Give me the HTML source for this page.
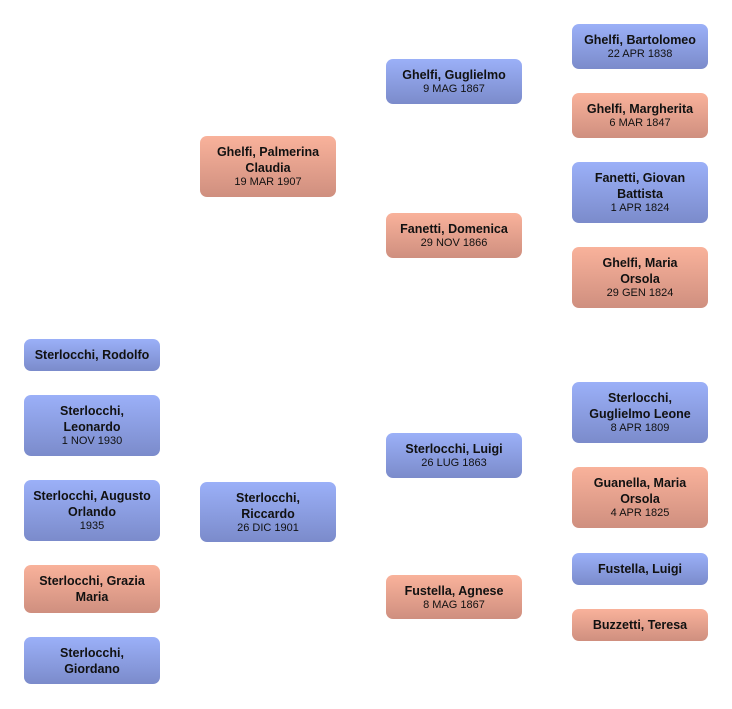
<!DOCTYPE html>
<html>
<head>
<meta charset="utf-8">
<style>
  html, body { margin:0; padding:0; background:#ffffff; }
  body { width:732px; height:709px; position:relative; overflow:hidden;
         font-family:"Liberation Sans", "DejaVu Sans", sans-serif; color:#111; }
  .b { position:absolute; width:136px; border-radius:7px; box-sizing:border-box;
       display:flex; flex-direction:column; justify-content:center; align-items:center;
       text-align:center; }
  .m { background:linear-gradient(#9bb0f8, #7b8bcb); }
  .f { background:linear-gradient(#f9b29b, #cf8f7f); }
  .n { font-weight:bold; font-size:12.5px; line-height:16px; padding:0 6px; }
  .d { font-size:11px; line-height:13px; }
</style>
</head>
<body>
<!-- column 1 -->
<div class="b m" style="left:24px;top:339px;height:32px"><div class="n">Sterlocchi, Rodolfo</div></div>
<div class="b m" style="left:24px;top:395px;height:61px"><div class="n">Sterlocchi,<br>Leonardo</div><div class="d">1 NOV 1930</div></div>
<div class="b m" style="left:24px;top:480px;height:61px"><div class="n">Sterlocchi, Augusto<br>Orlando</div><div class="d">1935</div></div>
<div class="b f" style="left:24px;top:565px;height:48px"><div class="n">Sterlocchi, Grazia<br>Maria</div></div>
<div class="b m" style="left:24px;top:637px;height:47px"><div class="n">Sterlocchi,<br>Giordano</div></div>

<!-- column 2 -->
<div class="b f" style="left:200px;top:136px;height:61px"><div class="n">Ghelfi, Palmerina<br>Claudia</div><div class="d">19 MAR 1907</div></div>
<div class="b m" style="left:200px;top:482px;height:60px"><div class="n">Sterlocchi,<br>Riccardo</div><div class="d">26 DIC 1901</div></div>

<!-- column 3 -->
<div class="b m" style="left:386px;top:59px;height:45px"><div class="n">Ghelfi, Guglielmo</div><div class="d">9 MAG 1867</div></div>
<div class="b f" style="left:386px;top:213px;height:45px"><div class="n">Fanetti, Domenica</div><div class="d">29 NOV 1866</div></div>
<div class="b m" style="left:386px;top:433px;height:45px"><div class="n">Sterlocchi, Luigi</div><div class="d">26 LUG 1863</div></div>
<div class="b f" style="left:386px;top:575px;height:44px"><div class="n">Fustella, Agnese</div><div class="d">8 MAG 1867</div></div>

<!-- column 4 -->
<div class="b m" style="left:572px;top:24px;height:45px"><div class="n">Ghelfi, Bartolomeo</div><div class="d">22 APR 1838</div></div>
<div class="b f" style="left:572px;top:93px;height:45px"><div class="n">Ghelfi, Margherita</div><div class="d">6 MAR 1847</div></div>
<div class="b m" style="left:572px;top:162px;height:61px"><div class="n">Fanetti, Giovan<br>Battista</div><div class="d">1 APR 1824</div></div>
<div class="b f" style="left:572px;top:247px;height:61px"><div class="n">Ghelfi, Maria<br>Orsola</div><div class="d">29 GEN 1824</div></div>
<div class="b m" style="left:572px;top:382px;height:61px"><div class="n">Sterlocchi,<br>Guglielmo Leone</div><div class="d">8 APR 1809</div></div>
<div class="b f" style="left:572px;top:467px;height:61px"><div class="n">Guanella, Maria<br>Orsola</div><div class="d">4 APR 1825</div></div>
<div class="b m" style="left:572px;top:553px;height:32px"><div class="n">Fustella, Luigi</div></div>
<div class="b f" style="left:572px;top:609px;height:32px"><div class="n">Buzzetti, Teresa</div></div>
</body>
</html>
